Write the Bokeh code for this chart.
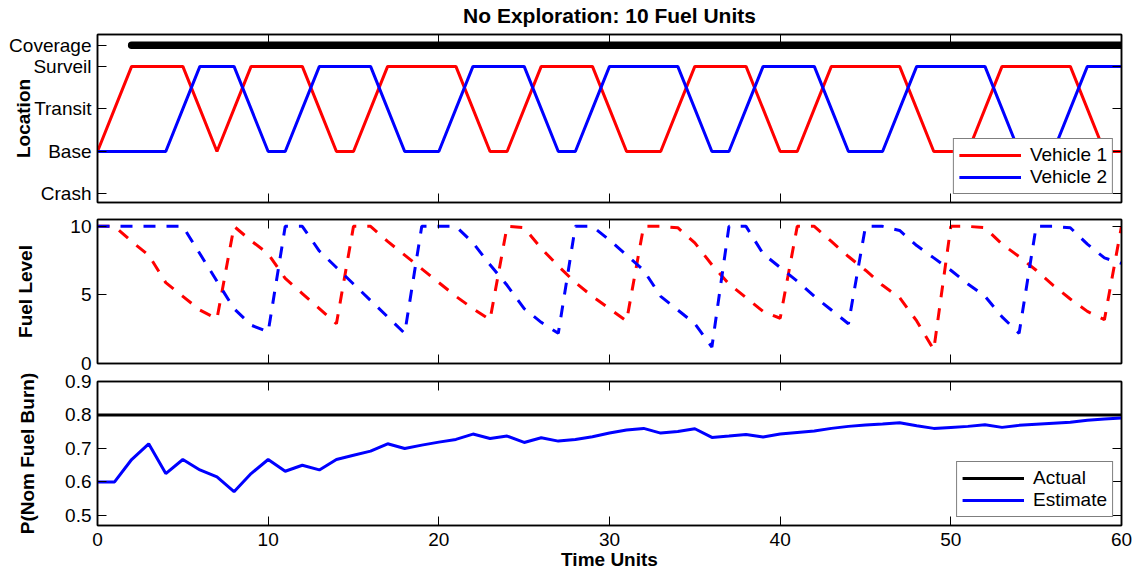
from bokeh.plotting import figure
from bokeh.layouts import column
from bokeh.models import (FixedTicker, LinearAxis, Range1d, Legend, LegendItem,
                          CustomJSTickFormatter)
from bokeh.embed import file_html
from bokeh.resources import INLINE

# ---------------- data ----------------
time = list(range(61))
x_ticks = [0, 10, 20, 30, 40, 50, 60]

title_text = "No Exploration: 10 Fuel Units"

loc_names = ["Crash", "Base", "Transit", "Surveil", "Coverage"]
loc_values = [0, 1, 2, 3, 3.5]

v1_location = ["Base", "Transit", "Surveil", "Surveil", "Surveil", "Surveil", "Transit", "Base",
               "Transit", "Surveil", "Surveil", "Surveil", "Surveil", "Transit", "Base", "Base",
               "Transit", "Surveil", "Surveil", "Surveil", "Surveil", "Surveil", "Transit", "Base", "Base",
               "Transit", "Surveil", "Surveil", "Surveil", "Surveil", "Transit", "Base", "Base", "Base",
               "Transit", "Surveil", "Surveil", "Surveil", "Surveil", "Transit", "Base", "Base",
               "Transit", "Surveil", "Surveil", "Surveil", "Surveil", "Surveil", "Transit", "Base", "Base", "Base",
               "Transit", "Surveil", "Surveil", "Surveil", "Surveil", "Surveil", "Transit", "Base", "Base"]
v2_location = ["Base", "Base", "Base", "Base", "Base", "Transit", "Surveil", "Surveil", "Surveil",
               "Transit", "Base", "Base", "Transit", "Surveil", "Surveil", "Surveil", "Surveil",
               "Transit", "Base", "Base", "Base", "Transit", "Surveil", "Surveil", "Surveil", "Surveil",
               "Transit", "Base", "Base", "Transit", "Surveil", "Surveil", "Surveil", "Surveil", "Surveil",
               "Transit", "Base", "Base", "Transit", "Surveil", "Surveil", "Surveil", "Surveil",
               "Transit", "Base", "Base", "Base", "Transit", "Surveil", "Surveil", "Surveil", "Surveil", "Surveil",
               "Transit", "Base", "Base", "Base", "Transit", "Surveil", "Surveil", "Surveil"]
coverage = [0, 0] + [1] * 59

v1_fuel = [10, 10, 8.9, 7.9, 5.9, 4.9, 3.9, 3.25,
           10, 8.95, 8.0, 6.2, 5.1, 4.0, 2.9,
           10, 10, 8.9, 7.9, 6.9, 5.9, 4.9, 4.0, 3.2,
           10, 9.9, 8.4, 7.1, 5.9, 4.9, 4.0, 3.1,
           10, 10, 9.9, 8.8, 7.2, 5.8, 4.8, 3.8, 3.3,
           10, 10, 8.9, 7.8, 6.8, 5.7, 4.8, 3.1, 1.0,
           10, 10, 9.9, 8.7, 7.8, 6.8, 5.7, 4.7, 3.8, 3.2, 10]
v2_fuel = [10, 10, 10, 10, 10, 10,
           8.0, 6.0, 4.0, 2.8, 2.3,
           10, 10, 8.2, 7.0, 5.8, 4.6, 3.4, 2.2,
           10, 10, 10, 8.8, 7.2, 5.7, 4.0, 3.0, 2.2,
           10, 10, 9.0, 7.9, 6.8, 4.9, 3.9, 2.9, 1.2,
           10, 10, 8.0, 7.0, 6.0, 4.9, 3.9, 2.9,
           10, 10, 9.7, 8.6, 7.7, 6.8, 5.8, 4.9, 3.4, 2.2,
           10, 10, 9.9, 8.7, 7.7, 7.3]

p_actual_t = [0, 60]
p_actual = [0.8, 0.8]
p_estimate = [0.600, 0.600, 0.667, 0.714, 0.625, 0.667, 0.636, 0.615, 0.571, 0.625,
              0.667, 0.632, 0.650, 0.636, 0.667, 0.680, 0.692, 0.714, 0.700, 0.710,
              0.719, 0.727, 0.743, 0.730, 0.737, 0.718, 0.732, 0.722, 0.727, 0.735,
              0.746, 0.755, 0.760, 0.746, 0.751, 0.759, 0.733, 0.737, 0.742, 0.734,
              0.743, 0.748, 0.752, 0.760, 0.766, 0.770, 0.773, 0.777, 0.768, 0.760,
              0.763, 0.766, 0.771, 0.763, 0.769, 0.772, 0.775, 0.778, 0.784, 0.788, 0.791]

fuel_ticks = [0, 5, 10]
p_ticks = [0.5, 0.6, 0.7, 0.8, 0.9]

# ---------------- style ----------------
FONT = "Liberation Sans"
TICK_FS = "19px"
LABEL_FS = "19px"
RED = "#ff0000"
BLUE = "#0000ff"
TICK_LEN = 9

loc_map = dict(zip(loc_names, loc_values))


def blank():
    return CustomJSTickFormatter(code="return ''")


def bold_label(ax, text, size, standoff):
    ax.axis_label = text
    ax.axis_label_text_font = FONT
    ax.axis_label_text_font_size = size
    ax.axis_label_text_font_style = "bold"
    ax.axis_label_text_color = "black"
    ax.axis_label_standoff = standoff


def make_fig(frame_h, y_range, y_ticks, min_top, min_bottom, show_x_labels, ylabel, ylabel_standoff,
             **kw):
    p = figure(frame_width=1024, frame_height=frame_h, x_range=Range1d(0, 60), y_range=y_range,
               output_backend="svg", toolbar_location=None,
               min_border_left=97, min_border_right=17,
               min_border_top=min_top, min_border_bottom=min_bottom,
               background_fill_color="white", **kw)
    p.grid.visible = False
    p.outline_line_color = "black"
    p.outline_line_width = 1.5
    xax = p.below[0]
    yax = p.left[0]
    for ax in (xax, yax):
        ax.major_tick_in = TICK_LEN
        ax.major_tick_out = 0
        ax.minor_tick_line_color = None
        ax.axis_line_width = 1.5
        ax.axis_line_color = "black"
        ax.major_tick_line_color = "black"
        ax.major_tick_line_width = 1
        ax.major_label_text_font = FONT
        ax.major_label_text_font_size = TICK_FS
        ax.major_label_text_color = "black"
    xax.ticker = FixedTicker(ticks=x_ticks)
    yax.ticker = FixedTicker(ticks=y_ticks)
    yax.major_label_standoff = 6
    bold_label(yax, ylabel, LABEL_FS, ylabel_standoff)
    if show_x_labels:
        xax.major_label_standoff = 7
    else:
        xax.formatter = blank()
        xax.major_label_standoff = 0
    # mirrored ticks on top and right (box style)
    top = LinearAxis(ticker=FixedTicker(ticks=x_ticks), formatter=blank(), major_tick_in=TICK_LEN,
                     major_tick_out=0, major_label_standoff=0, minor_tick_line_color=None,
                     axis_line_width=1.5, axis_line_color="black")
    right = LinearAxis(ticker=FixedTicker(ticks=y_ticks), formatter=blank(), major_tick_in=TICK_LEN,
                       major_tick_out=0, major_label_standoff=0, minor_tick_line_color=None,
                       axis_line_width=1.5, axis_line_color="black")
    p.add_layout(top, "above")
    p.add_layout(right, "right")
    return p, top


def style_legend(lg):
    lg.location = "bottom_right"
    lg.label_text_font = FONT
    lg.label_text_font_size = TICK_FS
    lg.label_text_color = "black"
    lg.border_line_color = "black"
    lg.border_line_width = 1.5
    lg.padding = 5
    lg.spacing = 0
    lg.glyph_width = 62
    lg.glyph_height = 20
    lg.label_height = 20
    lg.label_standoff = 9
    lg.margin = 8
    lg.background_fill_alpha = 1.0


# ---------------- panel 1: location ----------------
p1, top1 = make_fig(168, Range1d(-0.2, 3.75), loc_values, 34, 8, False, "Location", -28,
                    border_fill_color="white")
p1.left[0].major_label_overrides = {v: n for n, v in zip(loc_names, loc_values)}
bold_label(top1, title_text, "21px", 8)

cov_t = [t for t, c in zip(time, coverage) if c]
cov_y = [loc_map["Coverage"]] * len(cov_t)
p1.line(cov_t, cov_y, line_width=7.5, color="black", line_cap="round")
r_v1 = p1.line(time, [loc_map[s] for s in v1_location], line_width=3, color=RED)
r_v2 = p1.line(time, [loc_map[s] for s in v2_location], line_width=3, color=BLUE)
lg1 = Legend(items=[LegendItem(label="Vehicle 1", renderers=[r_v1]),
                    LegendItem(label="Vehicle 2", renderers=[r_v2])])
p1.add_layout(lg1)
style_legend(lg1)

# ---------------- panel 2: fuel ----------------
p2, _ = make_fig(144, Range1d(0, 10.5), fuel_ticks, 9, 12, False, "Fuel Level", 31,
                 border_fill_color="white")
p2.line(time, v1_fuel, line_width=3, color=RED, line_dash="12 11")
p2.line(time, v2_fuel, line_width=3, color=BLUE, line_dash="12 11")

# ---------------- panel 3: probability ----------------
p3, _ = make_fig(144, Range1d(0.47, 0.9), p_ticks, 15, 53, True, "P(Nom Fuel Burn)", 24,
                 border_fill_color=None, styles={"margin-top": "-9px"})
bold_label(p3.below[0], "Time Units", LABEL_FS, 0)
r_act = p3.line(p_actual_t, p_actual, line_width=3, color="black")
r_est = p3.line(time, p_estimate, line_width=3, color=BLUE)
lg3 = Legend(items=[LegendItem(label="Actual", renderers=[r_act]),
                    LegendItem(label="Estimate", renderers=[r_est])])
p3.add_layout(lg3)
style_legend(lg3)

layout = column(p1, p2, p3, spacing=0)
open("out.html", "w").write(file_html(layout, INLINE))
